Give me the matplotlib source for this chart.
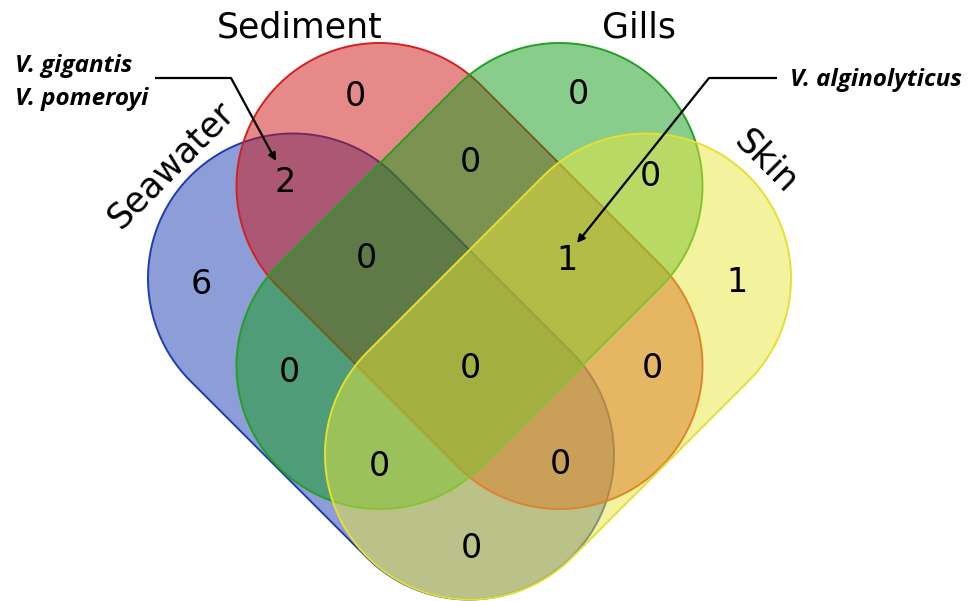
import numpy as np
import matplotlib
matplotlib.use("Agg")
import matplotlib.pyplot as plt
from matplotlib.patches import Polygon

# ---- data ----
set_names = ["Seawater", "Sediment", "Gills", "Skin"]
# membership key: (Seawater, Sediment, Gills, Skin)
region_keys = ["1000", "0100", "0010", "0001",
               "1100", "0110", "0011", "1010", "0101", "1001",
               "1110", "0111", "1011", "1101", "1111"]
region_counts = [6, 0, 0, 1,
                 2, 0, 0, 0, 0, 0,
                 0, 1, 0, 0, 0]
annot_left_species = ["V. gigantis", "V. pomeroyi"]   # Seawater & Sediment
annot_right_species = ["V. alginolyticus"]            # Sediment & Gills & Skin

# ---- layout (pixel coordinates, y downward) ----
W, H = 974, 601
x0 = 469.5
shape_r = {"Seawater": 145.0, "Sediment": 143.0, "Gills": 143.0, "Skin": 145.0}
shape_mid = {"Seawater": (x0 - 88.5, 366.5), "Sediment": (x0, 276),
             "Gills": (x0, 276), "Skin": (x0 + 88.5, 366.5)}
shape_half = {"Seawater": (88, 88), "Sediment": (90, 90),
              "Gills": (-90, 90), "Skin": (-88, 88)}
face_cols = {"Seawater": (0.10, 0.24, 0.69), "Sediment": (0.80, 0.08, 0.08),
             "Gills": (0.08, 0.61, 0.10), "Skin": (0.91, 0.90, 0.24)}
edge_cols = {"Seawater": "#1e3cb4", "Sediment": "#d42020",
             "Gills": "#22a022", "Skin": "#e6e030"}
label_pos = {"1000": (201, 285), "0100": (355, 97), "0010": (578, 94),
             "0001": (737, 282), "1100": (285, 183), "0110": (470, 162),
             "0011": (650, 176), "1010": (289, 373), "0101": (652, 368),
             "1001": (471, 548), "1110": (366, 258), "0111": (567, 260),
             "1011": (379, 466), "1101": (560, 465), "1111": (470, 369)}
name_pos = {"Seawater": (171, 165, 45), "Sediment": (300, 28, 0),
            "Gills": (639, 28, 0), "Skin": (766, 162, -45)}


def capsule(mid, half, r, n=120):
    mid = np.asarray(mid, float)
    half = np.asarray(half, float)
    c1, c2 = mid - half, mid + half
    ang = np.arctan2(half[1], half[0])
    t1 = np.linspace(ang + np.pi / 2, ang + 3 * np.pi / 2, n)
    t2 = np.linspace(ang - np.pi / 2, ang + np.pi / 2, n)
    p1 = c1 + r * np.column_stack([np.cos(t1), np.sin(t1)])
    p2 = c2 + r * np.column_stack([np.cos(t2), np.sin(t2)])
    return np.vstack([p1, p2])


fig = plt.figure(figsize=(W / 100, H / 100), dpi=100)
ax = fig.add_axes([0, 0, 1, 1])
ax.set_xlim(0, W)
ax.set_ylim(H, 0)
ax.axis("off")

for name in set_names:
    pts = capsule(shape_mid[name], shape_half[name], shape_r[name])
    fc = (*face_cols[name], 0.5)
    ax.add_patch(Polygon(pts, closed=True, facecolor=fc,
                         edgecolor=edge_cols[name], linewidth=1.4))

for key, cnt in zip(region_keys, region_counts):
    x, y = label_pos[key]
    ax.text(x, y, str(cnt), ha="center", va="center", fontsize=24,
            color="black", family="DejaVu Sans")

for name in set_names:
    x, y, rot = name_pos[name]
    ax.text(x, y, name, ha="center", va="center", rotation=rot,
            fontsize=25, color="black", family="DejaVu Sans")

ital = dict(family=["Open Sans", "DejaVu Sans"], fontweight="bold",
            fontstyle="italic", fontsize=17.5, color="black")
for i, sp in enumerate(annot_left_species):
    ax.text(15, 72 + 33 * i, sp, ha="left", va="baseline", **ital)
for i, sp in enumerate(annot_right_species):
    ax.text(790, 86 + 33 * i, sp, ha="left", va="baseline", **ital)

arrow = dict(arrowstyle="-|>", color="black", lw=1.6, mutation_scale=11,
             shrinkA=0, shrinkB=0)
ax.plot([155, 231], [78, 78], color="black", lw=1.6, solid_capstyle="butt")
ax.annotate("", xy=(276, 161), xytext=(231, 78), arrowprops=arrow)
ax.plot([777, 709], [78, 78], color="black", lw=1.6, solid_capstyle="butt")
ax.annotate("", xy=(577, 243), xytext=(709, 78), arrowprops=arrow)

fig.savefig("out.png", dpi=100)
